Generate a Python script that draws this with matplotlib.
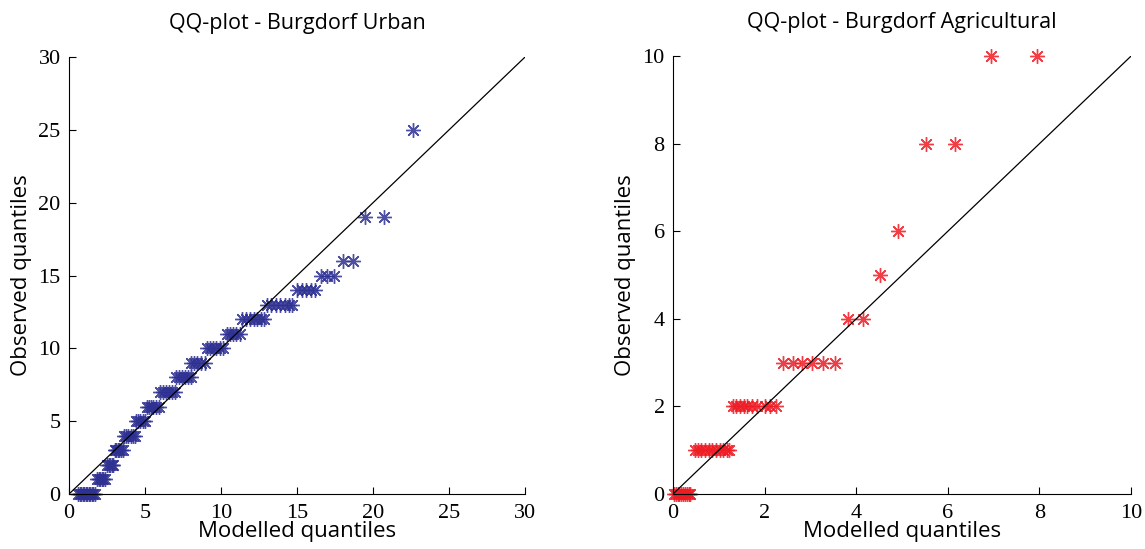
import numpy as np
import matplotlib
matplotlib.use("Agg")
import matplotlib.pyplot as plt

# observed levels and the modelled quantiles read for each level
urban_levels = [0, 1, 2, 3, 4, 5, 6, 7, 8, 9, 10, 11, 12, 13, 14, 15, 16, 19, 25]
urban_quantiles = [
    [0.6, 0.7, 0.8, 0.9, 1.0, 1.1, 1.2, 1.3, 1.4, 1.5, 1.6, 1.7],
    [1.85, 1.95, 2.05, 2.15, 2.25, 2.35],
    [2.5, 2.6, 2.7, 2.8, 2.9],
    [3.0, 3.1, 3.2, 3.3, 3.4, 3.55],
    [3.6, 3.75, 3.9, 4.05, 4.2, 4.35],
    [4.4, 4.55, 4.7, 4.85, 5.0],
    [5.1, 5.25, 5.4, 5.55, 5.7, 5.9],
    [6.0, 6.2, 6.4, 6.6, 6.8, 7.0],
    [7.05, 7.25, 7.45, 7.65, 7.85, 8.0],
    [8.05, 8.25, 8.45, 8.65, 8.95],
    [9.1, 9.3, 9.5, 9.7, 9.9, 10.1],
    [10.4, 10.6, 10.8, 11.0, 11.25],
    [11.4, 11.65, 11.9, 12.15, 12.4, 12.6, 12.8],
    [13.0, 13.3, 13.6, 13.9, 14.2, 14.45, 14.7],
    [15.0, 15.3, 15.6, 15.9, 16.2],
    [16.6, 17.0, 17.45],
    [18.0, 18.7],
    [19.5, 20.7],
    [22.6],
]

agri_levels = [0, 1, 2, 3, 4, 5, 6, 8, 10]
agri_quantiles = [
    [0.02, 0.06, 0.1, 0.14, 0.18, 0.22, 0.26, 0.3, 0.34, 0.38],
    [0.48, 0.55, 0.62, 0.7, 0.78, 0.86, 0.94, 1.02, 1.1, 1.18, 1.22],
    [1.3, 1.38, 1.46, 1.54, 1.62, 1.72, 1.83, 2.0, 2.12, 2.25],
    [2.4, 2.62, 2.82, 3.03, 3.27, 3.54],
    [3.82, 4.15],
    [4.52],
    [4.91],
    [5.52, 6.16],
    [6.94, 7.95],
]

sans = ['Open Sans', 'DejaVu Sans']
serif = 'Liberation Serif'


def qq_panel(ax, levels, quants, color, lim, step, title):
    x = np.concatenate([np.array(q) for q in quants])
    y = np.concatenate([np.full(len(q), lv) for q, lv in zip(quants, levels)])
    ax.plot(x, y, linestyle='none', marker=(8, 2, 0), markersize=10.5,
            markeredgewidth=1.0, color=color, alpha=0.85, clip_on=False)
    ax.plot([0, lim], [0, lim], color='black', lw=0.9)
    ax.set_xlim(0, lim)
    ax.set_ylim(0, lim)
    ticks = np.arange(0, lim + step / 2, step)
    ax.set_xticks(ticks)
    ax.set_yticks(ticks)
    ax.set_xticklabels([f'{t:g}' for t in ticks], fontfamily=serif, fontsize=16)
    ax.set_yticklabels([f'{t:g}' for t in ticks], fontfamily=serif, fontsize=16)
    ax.tick_params(direction='in', length=5, width=0.8)
    ax.tick_params(axis='x', pad=7)
    ax.tick_params(axis='y', pad=6)
    ax.spines['top'].set_visible(False)
    ax.spines['right'].set_visible(False)
    for s in ['left', 'bottom']:
        ax.spines[s].set_linewidth(0.8)
    ax.set_xlabel('Modelled quantiles', fontfamily=sans, fontsize=16, labelpad=-1)
    ax.set_ylabel('Observed quantiles', fontfamily=sans, fontsize=16, labelpad=5)
    ax.set_title(title, fontfamily=sans, fontsize=15.5, pad=20)


fig = plt.figure(figsize=(11.45, 5.49), dpi=100)
ax1 = fig.add_axes([0.0603, 0.1002, 0.3982, 0.7958])
ax2 = fig.add_axes([0.5878, 0.1002, 0.4000, 0.7976])

qq_panel(ax1, urban_levels, urban_quantiles, '#2E3192', 30, 5, 'QQ-plot - Burgdorf Urban')
qq_panel(ax2, agri_levels, agri_quantiles, '#ED1C24', 10, 2, 'QQ-plot - Burgdorf Agricultural')

fig.savefig('out.png', dpi=100)
